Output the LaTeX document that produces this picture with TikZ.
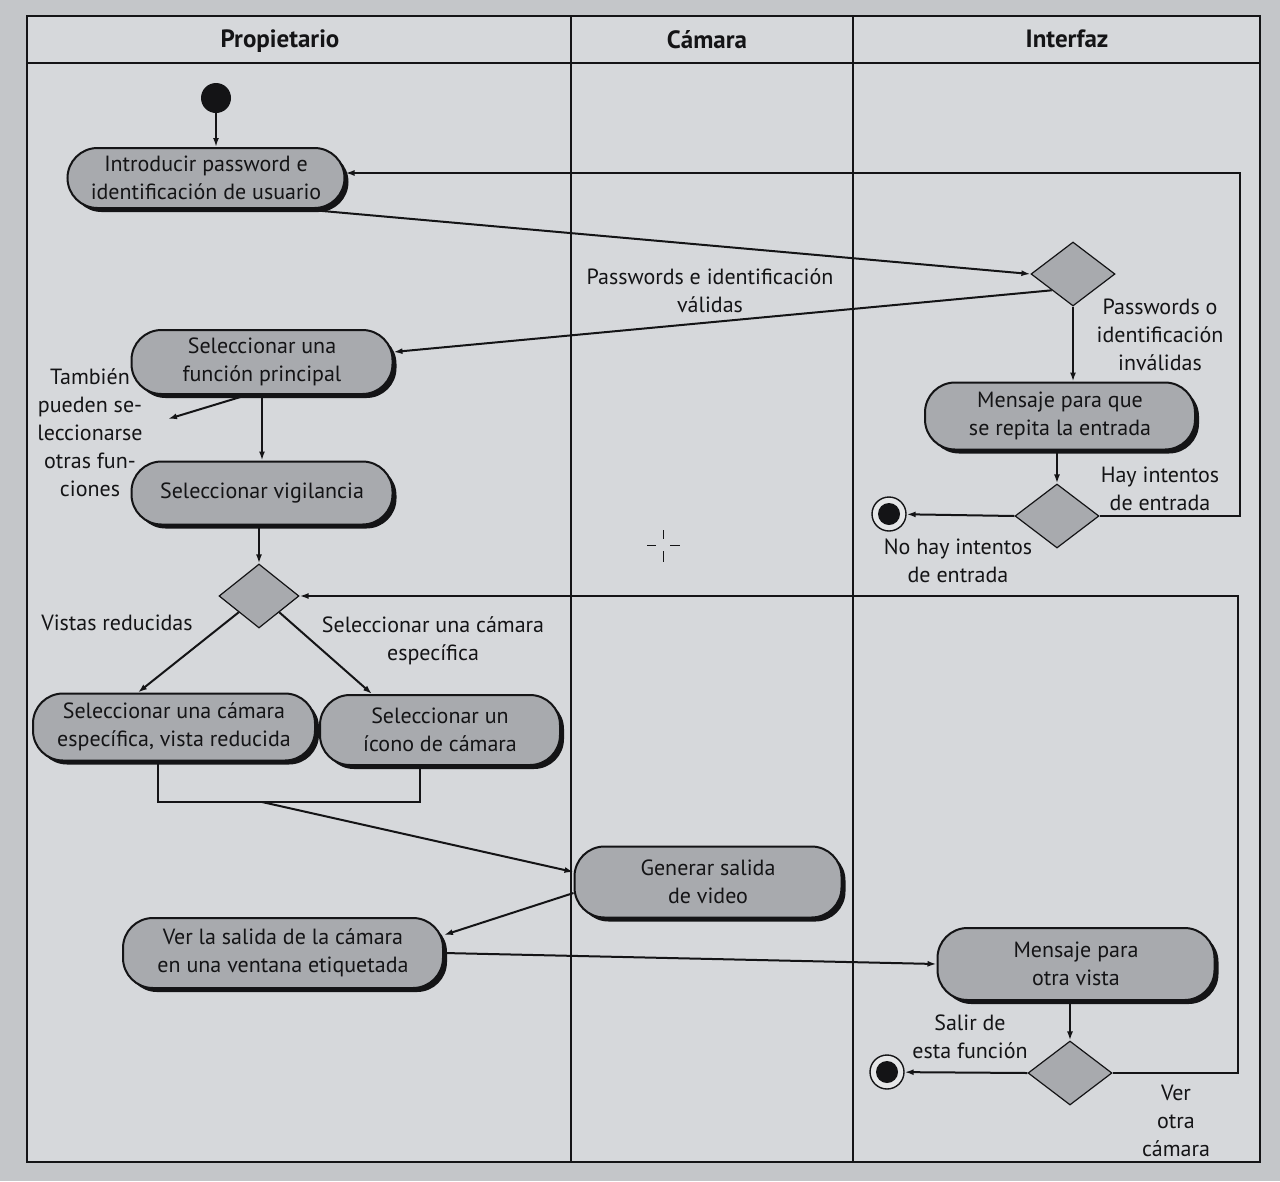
\documentclass[tikz,border=0pt]{standalone}
\usepackage{fontspec}
\setmainfont{PT Sans}
\usetikzlibrary{shapes.geometric,shadows,arrows.meta}
\definecolor{bgout}{RGB}{196,198,201}
\definecolor{bgin}{RGB}{214,216,219}
\definecolor{nodefill}{RGB}{168,170,174}
\definecolor{ink}{RGB}{20,20,22}
\begin{document}
\begin{tikzpicture}[x=1pt,y=-1pt,
  every node/.style={font=\fontsize{22}{28}\selectfont, text=ink},
  act/.style={draw=ink, line width=2pt, fill=nodefill, rectangle, rounded corners=30pt, align=center, inner sep=0pt,
    drop shadow={shadow xshift=4pt, shadow yshift=-4pt, opacity=1, fill=ink}},
  dec/.style={diamond, draw=ink, line width=1.2pt, fill=nodefill, inner sep=0pt, minimum width=84pt, minimum height=64pt},
  lbl/.style={align=center, inner sep=0pt},
  flow/.style={draw=ink, line width=2pt, -{Latex[length=9pt,width=6pt]}},
  plain/.style={draw=ink, line width=2pt},
  lane/.style={draw=ink, line width=1.6pt},
  head/.style={font=\fontsize{25}{30}\selectfont\bfseries},
  startdot/.style={circle, fill=ink, minimum size=30pt, inner sep=0pt},
  enddot/.style={circle, draw=ink, line width=1.4pt, fill=white!70!nodefill, minimum size=34pt, inner sep=0pt,
    path picture={\fill[ink] (path picture bounding box.center) circle (11pt);}},
]
\fill[bgout] (0,0) rectangle (1280,1181);
\useasboundingbox (0,0) rectangle (1280,1181);
\fill[bgin] (27,16) rectangle (1260,1162);
\draw[lane] (27,16) rectangle (1260,1162);
\draw[lane] (27,63) -- (1260,63);
\draw[lane] (571,16) -- (571,1162);
\draw[lane] (853,16) -- (853,1162);
\draw[ink, line width=0.8pt] (663,530) -- (663,539) (663,551) -- (663,562) (647,545) -- (656,545) (670,545) -- (680,545);

% headers
\node[head] (hp) at (280,41) {Propietario};
\node[head] (hc) at (707,40) {Cámara};
\node[head] (hi) at (1067,39) {Interfaz};

% nodes
\node[startdot] (start) at (216,98) {};
\node[act, minimum width=277pt, minimum height=60pt] (n1) at (206,178) {Introducir password e\\identificación de usuario};
\node[dec] (d1) at (1073,274) {};
\node[act, minimum width=261pt, minimum height=64pt] (n2) at (262,362) {Seleccionar una\\función principal};
\node[act, minimum width=270pt, minimum height=67pt] (m1) at (1060,416) {Mensaje para que\\se repita la entrada};
\node[dec] (d2) at (1057,516) {};
\node[enddot] (e1) at (889,514) {};
\node[act, minimum width=261pt, minimum height=63pt] (n3) at (262,493) {Seleccionar vigilancia};
\node[dec, minimum width=80pt] (d3) at (259,596) {};
\node[act, minimum width=282pt, minimum height=67pt] (n4) at (174,727) {Seleccionar una cámara\\específica, vista reducida};
\node[act, minimum width=240pt, minimum height=70pt] (n5) at (440,730) {Seleccionar un\\ícono de cámara};
\node[act, minimum width=267pt, minimum height=71pt] (n6) at (708,882) {Generar salida\\de video};
\node[act, minimum width=320pt, minimum height=70pt] (n7) at (283,953) {Ver la salida de la cámara\\en una ventana etiquetada};
\node[act, minimum width=277pt, minimum height=72pt] (n8) at (1076,964) {Mensaje para\\otra vista};
\node[dec] (d4) at (1070,1073) {};
\node[enddot] (e2) at (887,1072) {};

% free ends
\coordinate (r1) at (1240,173);
\coordinate (oth) at (168,419);
\coordinate (jl) at (158,802);
\coordinate (jr) at (420,802);
\coordinate (jm) at (262,802);
\coordinate (r2) at (1238,596);

% connectors
\draw[flow] (start) -- (start |- n1.north);
\draw[flow] ([xshift=94pt]n1.south) -- (d1.west);
\draw[flow] (d1.south west) -- ([yshift=10pt]n2.east);
\draw[flow] (d1.south) -- (d1.south |- m1.north);
\draw[flow] (m1.south -| d2.north) -- (d2.north);
\draw[flow] (d2.east) -| (r1) -- (r1 -| n1.east);
\draw[flow] (d2.west) -- (e1);
\draw[flow] (n2) -- (n3);
\draw[flow] ([xshift=-15pt]n2.south) -- (oth);
\draw[flow] (n3.south -| d3.north) -- (d3.north);
\draw[flow] (d3.south west) -- ([xshift=-36pt]n4.north);
\draw[flow] (d3.south east) -- ([xshift=-68pt]n5.north);
\draw[plain] ([xshift=-16pt]n4.south) -- (jl) -- (jr) -- ([xshift=-20pt]n5.south);
\draw[flow] (jm) -- ([yshift=10pt]n6.west);
\draw[flow] ([yshift=-11pt]n6.west) -- ([yshift=18pt]n7.east);
\draw[flow] (n7.east) -- (n8.west);
\draw[flow] (n8.south -| d4.north) -- (d4.north);
\draw[flow] (d4.east) -| (r2) -- (d3.east);
\draw[flow] (d4.west) -- (e2);

% labels
\node[lbl] (l1) at (710,291) {Passwords e identificación\\válidas};
\node[lbl] (l2) at (1160,335) {Passwords o\\identificación\\inválidas};
\node[lbl] (l3) at (1160,489) {Hay intentos\\de entrada};
\node[lbl] (l4) at (958,561) {No hay intentos\\de entrada};
\node[lbl] (l5) at (90,433) {También\\pueden se-\\leccionarse\\otras fun-\\ciones};
\node[lbl] (l6) at (117,623) {Vistas reducidas};
\node[lbl] (l7) at (433,641) {Seleccionar una cámara\\específica};
\node[lbl] (l8) at (970,1037) {Salir de\\esta función};
\node[lbl] (l9) at (1176,1121) {Ver\\otra\\cámara};
\end{tikzpicture}
\end{document}
